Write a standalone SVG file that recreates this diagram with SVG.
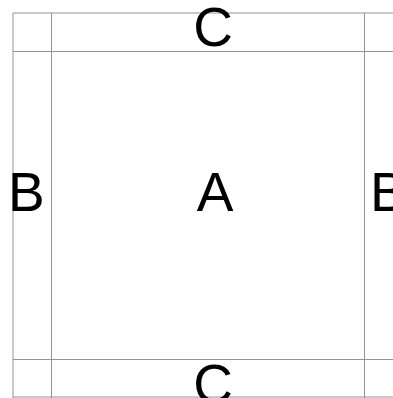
<svg xmlns="http://www.w3.org/2000/svg" width="393" height="398" viewBox="0 0 393 398">
<style>
.grid{stroke:#949494;stroke-width:1;fill:none}
.lbl{font-family:"Liberation Sans",Arial,sans-serif;font-size:55px;fill:#000}
.mid{text-anchor:middle}
</style>
<rect width="393" height="398" fill="#fff"/>
<g id="grid" class="grid">
<line x1="13" y1="13" x2="393" y2="13"/>
<line x1="13" y1="13" x2="13" y2="398"/>
<line x1="51.5" y1="13" x2="51.5" y2="398"/>
<line x1="364.5" y1="13" x2="364.5" y2="398"/>
<line x1="13" y1="51.5" x2="393" y2="51.5"/>
<line x1="13" y1="359.5" x2="393" y2="359.5"/>
<line x1="13" y1="397" x2="393" y2="397"/>
</g>
<g id="cell-A"><text class="lbl mid" x="215" y="211">A</text></g>
<g id="cell-B-left"><text class="lbl" x="8" y="211">B</text></g>
<g id="cell-B-right"><text class="lbl" x="370" y="211">B</text></g>
<g id="cell-C-top"><text class="lbl mid" x="213" y="46">C</text></g>
<g id="cell-C-bottom"><text class="lbl mid" x="213" y="403">C</text></g>
</svg>
